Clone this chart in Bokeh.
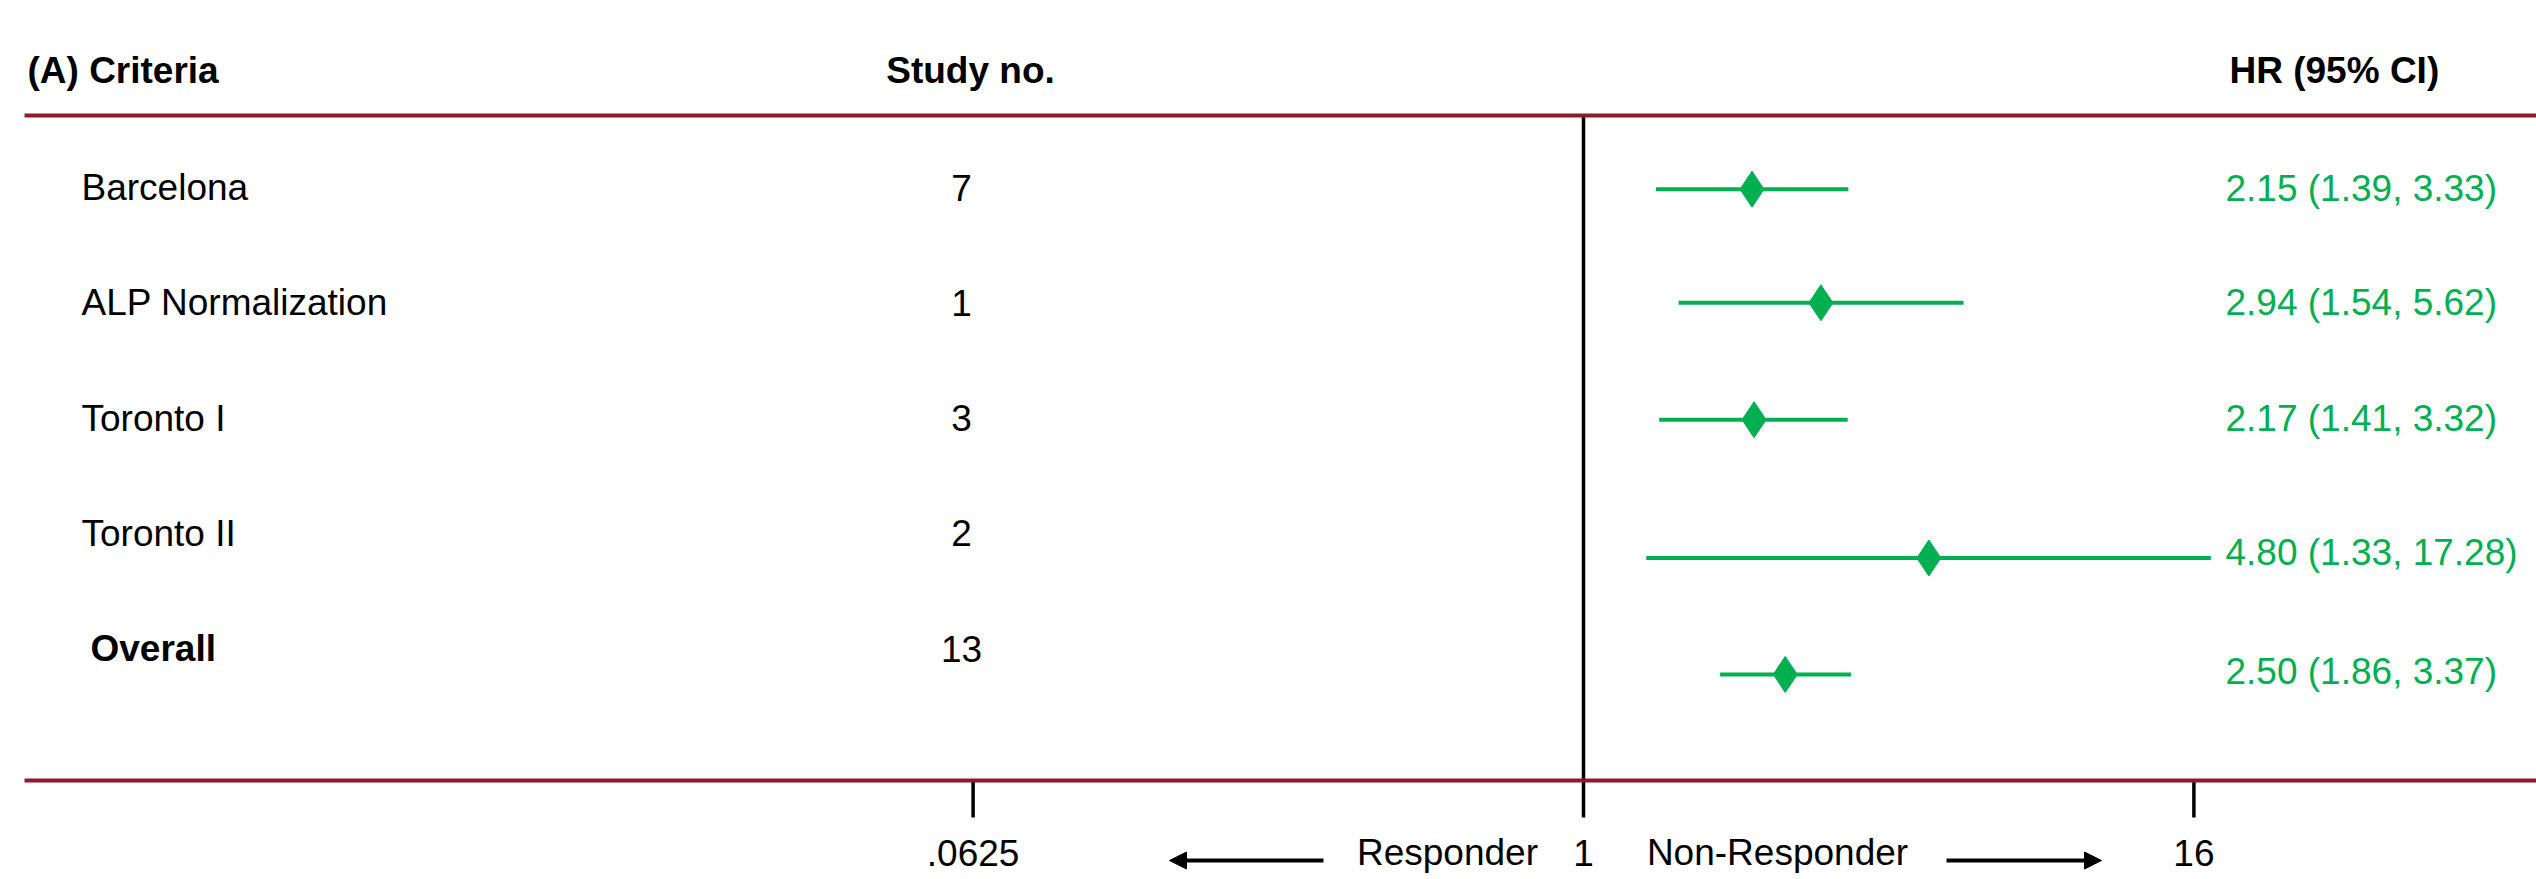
from bokeh.plotting import figure
from bokeh.models import ColumnDataSource, Range1d, LinearScale, Arrow, NormalHead
from bokeh.core.properties import value
from bokeh.embed import file_html
from bokeh.resources import INLINE

# ---------------- data ----------------
criteria = ["Barcelona", "ALP Normalization", "Toronto I", "Toronto II", "Overall"]
study_no = [7, 1, 3, 2, 13]
hr = [2.15, 2.94, 2.17, 4.80, 2.50]
ci_low = [1.39, 1.54, 1.41, 1.33, 1.86]
ci_high = [3.33, 5.62, 3.32, 17.28, 3.37]
tick_values = [0.0625, 1, 16]
tick_labels = [".0625", "1", "16"]
header_criteria = "(A) Criteria"
header_study = "Study no."
header_hr = "HR (95% CI)"
direction_labels = ["Responder", "Non-Responder"]

# ---------------- layout ----------------
W, H = 2536, 879
PX_PER_LOG2 = 152.6
X_ONE = 1583.0      # px where HR = 1
ROW0 = 187.0        # px of first row centre
ROW_H = 115.25
marker_shift = [0.015, 0.0, 0.015, 0.215, 0.225]
hr_text_shift = [0.005, 0.0, 0.005, 0.165, 0.2]

GREEN = "#00B050"
RED = "#8C1A2C"
FONT = value("Liberation Sans")
FS = value("37px")


def row_at(py):
    return (py - ROW0) / ROW_H


x_lo = 2 ** ((0 - X_ONE) / PX_PER_LOG2)
x_hi = 2 ** ((W - X_ONE) / PX_PER_LOG2)

p = figure(width=W, height=H, output_backend="svg", toolbar_location=None,
           x_axis_type="log", x_axis_location=None, y_axis_location=None,
           x_range=Range1d(x_lo, x_hi),
           y_range=Range1d(row_at(H), row_at(0)),
           min_border=0, outline_line_color=None, background_fill_color="white",
           border_fill_color="white")
p.grid.visible = False
p.extra_x_ranges = {"tbl": Range1d(0, W)}
p.extra_x_scales = {"tbl": LinearScale()}

n = len(criteria)
rows = list(range(n))

# vertical reference line at HR = 1 and the tick marks
y_top_line = row_at(115)
y_bot_line = row_at(780)
y_tick_end = row_at(817)
p.segment(x0=[1], x1=[1], y0=[y_top_line], y1=[y_bot_line], line_color="black", line_width=3.5)
p.segment(x0=tick_values, x1=tick_values, y0=[y_bot_line] * len(tick_values),
          y1=[y_tick_end] * len(tick_values), line_color="black", line_width=3.5)

# red rules
p.segment(x0=[24, 24], x1=[W, W], y0=[y_top_line, y_bot_line], y1=[y_top_line, y_bot_line],
          x_range_name="tbl", line_color=RED, line_width=4)

# forest marks
my = [r + s for r, s in zip(rows, marker_shift)]
forest = ColumnDataSource(dict(hr=hr, lo=ci_low, hi=ci_high, y=my))
p.segment(x0="lo", x1="hi", y0="y", y1="y", source=forest, line_color=GREEN, line_width=4)
p.scatter(x="hr", y="y", source=forest, marker="diamond", size=36,
          fill_color=GREEN, line_color=GREEN)

# HR text column
hr_txt = [f"{h:.2f} ({l:.2f}, {u:.2f})" for h, l, u in zip(hr, ci_low, ci_high)]
hy = [r + s for r, s in zip(rows, hr_text_shift)]
p.text(x=[2225] * n, y=hy, text=hr_txt, x_range_name="tbl", text_font=FONT,
       text_font_size=FS, text_color=GREEN, text_baseline="middle", text_align="left")

# criteria column
p.text(x=[81] * (n - 1), y=rows[:-1], text=criteria[:-1], x_range_name="tbl", text_font=FONT,
       text_font_size=FS, text_color="black", text_baseline="middle", text_align="left")
p.text(x=[90], y=rows[-1:], text=criteria[-1:], x_range_name="tbl", text_font=FONT,
       text_font_size=FS, text_font_style="bold", text_color="black",
       text_baseline="middle", text_align="left")

# study number column
p.text(x=[961] * n, y=rows, text=[str(s) for s in study_no], x_range_name="tbl", text_font=FONT,
       text_font_size=FS, text_color="black", text_baseline="middle", text_align="center")

# headers
y_head = row_at(70)
p.text(x=[27, 2229], y=[y_head, y_head], text=[header_criteria, header_hr], x_range_name="tbl",
       text_font=FONT, text_font_size=FS, text_font_style="bold", text_color="black",
       text_baseline="middle", text_align="left")
p.text(x=[970], y=[y_head], text=[header_study], x_range_name="tbl",
       text_font=FONT, text_font_size=FS, text_font_style="bold", text_color="black",
       text_baseline="middle", text_align="center")

# tick labels
y_lab = row_at(852)
p.text(x=tick_values, y=[y_lab] * len(tick_values), text=tick_labels, text_font=FONT,
       text_font_size=FS, text_color="black", text_baseline="middle", text_align="center")

# direction labels & arrows
p.text(x=[1447, 1777], y=[y_lab, y_lab], text=direction_labels, x_range_name="tbl",
       text_font=FONT, text_font_size=FS, text_color="black",
       text_baseline="middle", text_align="center")
y_arrow = row_at(860)
p.add_layout(Arrow(x_start=1323, x_end=1169, y_start=y_arrow, y_end=y_arrow, x_range_name="tbl",
                   line_color="black", line_width=4,
                   end=NormalHead(size=17, fill_color="black", line_color="black")))
p.add_layout(Arrow(x_start=1946, x_end=2101, y_start=y_arrow, y_end=y_arrow, x_range_name="tbl",
                   line_color="black", line_width=4,
                   end=NormalHead(size=17, fill_color="black", line_color="black")))

open("out.html", "w").write(file_html(p, INLINE))
